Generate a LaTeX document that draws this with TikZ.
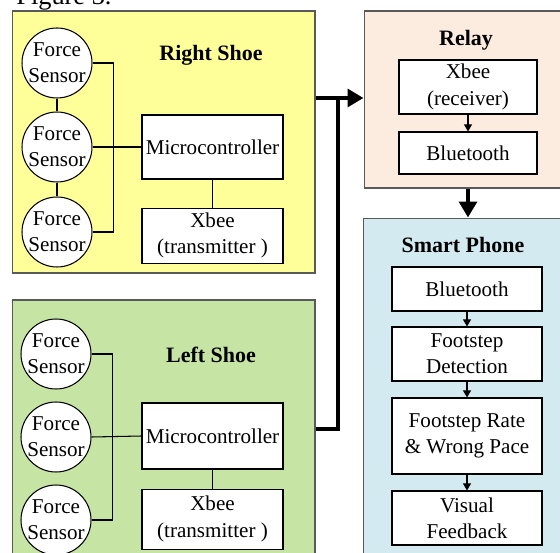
\documentclass[tikz,border=0pt]{standalone}
\usepackage{fontspec}
\setmainfont{Liberation Serif}
\usetikzlibrary{arrows.meta,positioning}
\definecolor{shoeyellow}{RGB}{255,255,153}
\definecolor{shoegreen}{RGB}{198,228,164}
\definecolor{relaypeach}{RGB}{252,236,224}
\definecolor{phoneblue}{RGB}{210,234,240}
\tikzset{sensor/.style={draw,circle,fill=white,minimum size=1.4cm,inner sep=0,align=center},
    block/.style={draw,rectangle,fill=white,inner sep=0,align=center,minimum width=2.82cm},
    phoneblock/.style={block,minimum width=3cm},
    unit/.style={draw=gray!70!black,rectangle,inner sep=0},
    unittitle/.style={font=\fontsize{12.5}{15}\selectfont\bfseries},
    wire/.style={line width=0.6pt},
    thinarrow/.style={line width=0.6pt,-{Triangle[length=4pt,width=4.5pt]}},
    bigarrow/.style={line width=2.3pt,-{Triangle[length=9pt,width=10pt]}}}

\begin{document}
\begin{tikzpicture}[x=0.02cm,y=-0.02cm,font=\fontsize{12}{15}\selectfont,line width=0.6pt]

\clip (0,0) rectangle (560,553);

\node [anchor=base west,font=\fontsize{15}{18}\selectfont] (caption) at (10,5) {Figure 3.};

% the four units
\node (rightshoe) [unit,fill=shoeyellow,minimum width=6.06cm,minimum height=5.24cm] at (163.5,142) {};
\node (leftshoe) [unit,fill=shoegreen,minimum width=6.06cm,minimum height=5.2cm] at (163.5,430) {};
\node (relay) [unit,fill=relaypeach,minimum width=4.04cm,minimum height=3.54cm] at (465,99.5) {};
\node (phone) [unit,fill=phoneblue,minimum width=4.06cm,minimum height=6.84cm] at (465,389) {};

\node [unittitle] at (211,55) {Right Shoe};
\node [unittitle] at (211,355) {Left Shoe};
\node [unittitle] at (466,40) {Relay};
\node [unittitle] at (463,245) {Smart Phone};

% shoes
\foreach \s/\y in {1/63,2/147,3/232}
    \node (sR\s) [sensor] at (57,\y) {Force\\Sensor};
\foreach \s/\y in {1/354,2/437,3/520}
    \node (sL\s) [sensor] at (56,\y) {Force\\Sensor};

\node (microR) [block,minimum height=1.28cm] at (212.5,147) {Microcontroller};
\node (xbeeR) [block,minimum height=1.1cm,below=0.56cm of microR] {Xbee\\(transmitter )};
\node (microL) [block,minimum height=1.32cm] at (212.5,436) {Microcontroller};
\node (xbeeL) [block,minimum height=1.2cm,below=0.38cm of microL] {Xbee\\(transmitter )};

\draw [wire] (sR1) -- (sR2);
\draw [wire] (sR2) -- (sR3);
\draw [wire] (sR1.east) -- ++(21,0) |- (sR3.east);
\draw [wire] (sR2.east) -- (microR.west);
\draw [wire] (microR) -- (xbeeR);

\draw [wire] (sL1.east) -- ++(21,0) |- (sL3.east);
\draw [wire] (sL2.east) -- (microL.west);
\draw [wire] (microL) -- (xbeeL);

% relay
\node (xbeeRx) [block,minimum width=2.76cm,minimum height=1.08cm] at (468,87) {Xbee\\(receiver)};
\node (btRelay) [block,minimum width=2.76cm,minimum height=0.84cm] at (468,153) {Bluetooth};
\draw [thinarrow] (xbeeRx) -- (btRelay);

% smart phone
\node (btPhone) [phoneblock,minimum height=0.88cm] at (467,289) {Bluetooth};
\node (detect) [phoneblock,minimum height=1.08cm] at (467,354) {Footstep\\Detection};
\node (rate) [phoneblock,minimum height=1.52cm] at (467,436) {Footstep Rate\\\& Wrong Pace};
\node (visual) [phoneblock,minimum height=1.08cm] at (467,518) {Visual\\Feedback};
\draw [thinarrow] (btPhone) -- (detect);
\draw [thinarrow] (detect) -- (rate);
\draw [thinarrow] (rate) -- (visual);

% links between units
\coordinate (tapR) at (rightshoe.east |- 0,98);
\coordinate (tapL) at (leftshoe.east |- 0,429);
\coordinate (joint) at (338,98);
\draw [bigarrow] (tapR) -- (tapR -| relay.west);
\draw [line width=2.3pt] (tapL) -| (joint);
\draw [bigarrow] (btRelay |- relay.south) -- (btRelay |- phone.north);

\end{tikzpicture}
\end{document}
